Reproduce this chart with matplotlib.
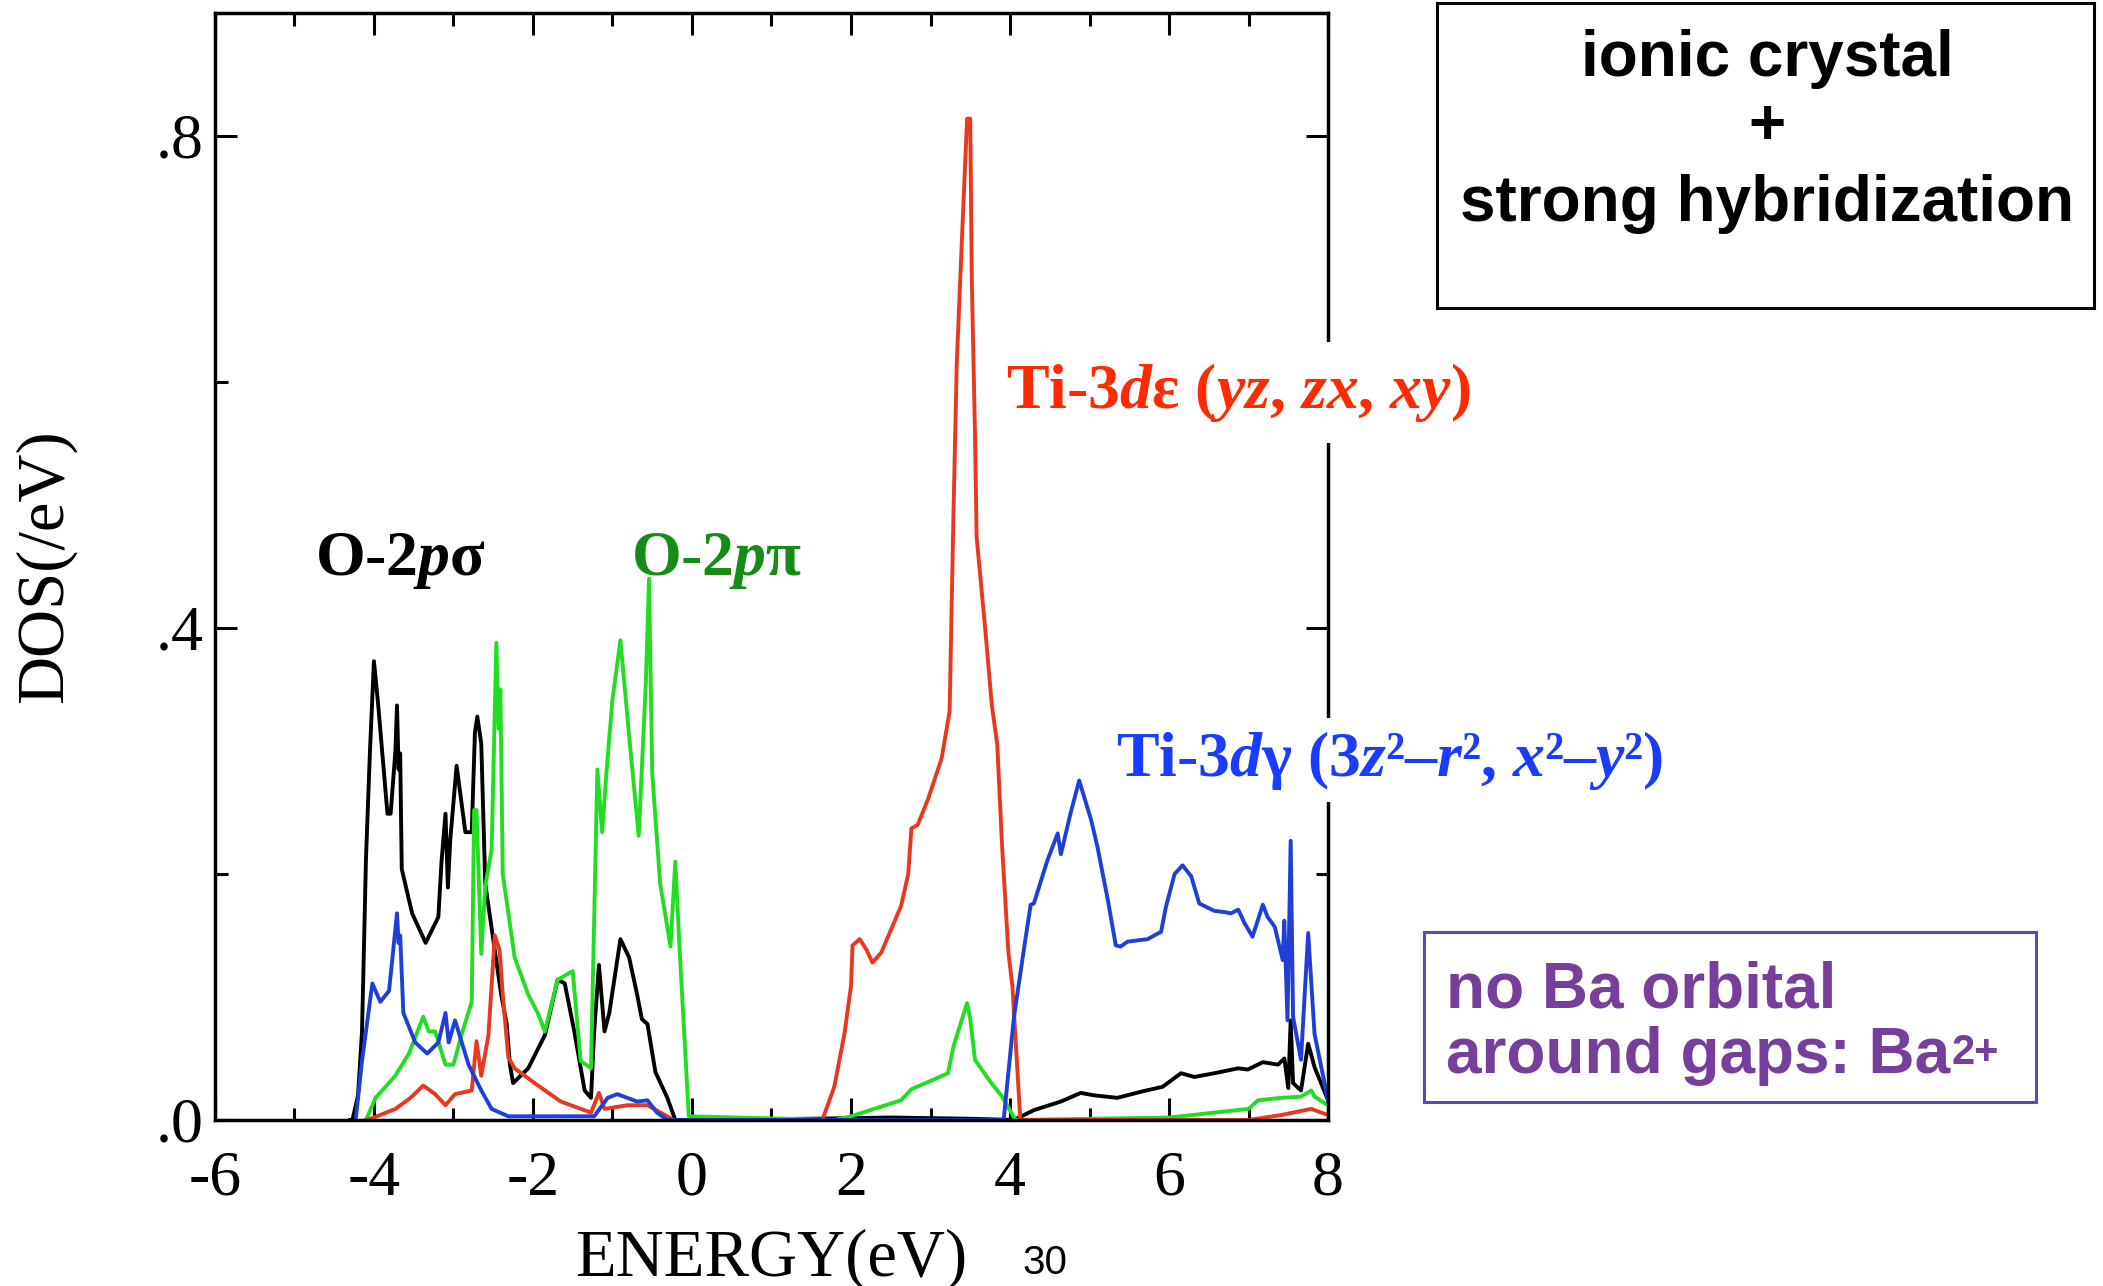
import matplotlib
matplotlib.use("Agg")
import matplotlib.pyplot as plt
from matplotlib.patches import Rectangle

# O-2p sigma (black)
e_sigma = [-4.3, -4.27, -4.2, -4.15, -4.1, -4.05, -4.0, -3.95, -3.83, -3.79, -3.73, -3.71, -3.69,
           -3.67, -3.65, -3.52, -3.35, -3.19, -3.15, -3.1, -3.07, -3.04, -2.96, -2.85, -2.77,
           -2.73, -2.7, -2.65, -2.6, -2.48, -2.4, -2.33, -2.29, -2.25, -2.06, -1.85, -1.69,
           -1.6, -1.48, -1.35, -1.27, -1.23, -1.17, -1.1, -1.04, -0.9, -0.79, -0.69, -0.63,
           -0.56, -0.46, -0.31, -0.21, 1.5, 2.5, 3.5, 4.05, 4.3, 4.64, 4.89, 5.06, 5.35, 5.65,
           5.92, 6.15, 6.32, 6.57, 6.87, 6.99, 7.18, 7.37, 7.45, 7.5, 7.53, 7.56, 7.66, 7.75,
           7.83, 8.0]
d_sigma = [0.0, 0.0, 0.02, 0.072, 0.213, 0.3, 0.373, 0.34, 0.249, 0.249, 0.3, 0.337, 0.285,
           0.298, 0.204, 0.168, 0.144, 0.165, 0.21, 0.249, 0.189, 0.228, 0.288, 0.234, 0.234,
           0.315, 0.328, 0.306, 0.192, 0.138, 0.102, 0.078, 0.045, 0.03, 0.042, 0.069, 0.114,
           0.111, 0.072, 0.024, 0.018, 0.072, 0.126, 0.072, 0.087, 0.147, 0.132, 0.102, 0.082,
           0.078, 0.039, 0.018, 0.0, 0.001, 0.002, 0.001, 0.0, 0.008, 0.015, 0.022, 0.02, 0.018,
           0.023, 0.027, 0.038, 0.035, 0.038, 0.042, 0.041, 0.047, 0.045, 0.05, 0.026, 0.081,
           0.03, 0.024, 0.062, 0.043, 0.016]

# O-2p pi (green)
e_pi = [-4.1, -3.98, -3.73, -3.56, -3.38, -3.31, -3.23, -3.1, -3.0, -2.9, -2.77, -2.74, -2.71,
        -2.65, -2.6, -2.52, -2.46, -2.43, -2.41, -2.38, -2.23, -2.06, -1.94, -1.85, -1.69, -1.5,
        -1.4, -1.27, -1.19, -1.13, -1.08, -1.0, -0.9, -0.79, -0.67, -0.58, -0.54, -0.5, -0.4,
        -0.27, -0.21, -0.15, -0.04, 1.79, 2.0, 2.63, 2.76, 3.22, 3.29, 3.46, 3.5, 3.56, 3.73,
        3.9, 4.07, 6.0, 7.0, 7.12, 7.41, 7.66, 7.79, 7.83, 8.0]
d_pi = [0.0, 0.018, 0.036, 0.054, 0.084, 0.072, 0.072, 0.045, 0.045, 0.069, 0.096, 0.252, 0.252,
        0.135, 0.19, 0.22, 0.388, 0.318, 0.35, 0.2, 0.132, 0.102, 0.087, 0.072, 0.114, 0.121,
        0.048, 0.042, 0.285, 0.234, 0.279, 0.342, 0.39, 0.312, 0.231, 0.356, 0.44, 0.282, 0.192,
        0.141, 0.21, 0.132, 0.003, 0.0, 0.003, 0.016, 0.025, 0.038, 0.06, 0.095, 0.082, 0.049,
        0.033, 0.019, 0.0, 0.002, 0.009, 0.016, 0.018, 0.019, 0.024, 0.019, 0.012]

# Ti-3d epsilon (red)
e_eps = [-4.1, -4.02, -3.73, -3.54, -3.38, -3.23, -3.1, -2.98, -2.77, -2.71, -2.65, -2.56, -2.48,
         -2.42, -2.38, -2.31, -2.23, -1.98, -1.65, -1.27, -1.17, -1.1, -0.81, -0.56, -0.23, 1.64,
         1.79, 1.92, 2.0, 2.02, 2.11, 2.19, 2.27, 2.38, 2.63, 2.72, 2.76, 2.84, 2.97, 3.14, 3.24,
         3.29, 3.33, 3.39, 3.46, 3.5, 3.52, 3.56, 3.58, 3.69, 3.77, 3.84, 3.9, 3.98, 4.03, 4.13,
         7.0, 7.41, 7.79, 8.0]
d_eps = [0.0, 0.0015, 0.009, 0.018, 0.028, 0.021, 0.012, 0.021, 0.024, 0.064, 0.036, 0.069, 0.15,
         0.138, 0.102, 0.051, 0.042, 0.03, 0.015, 0.006, 0.022, 0.009, 0.012, 0.012, 0.0, 0.0,
         0.027, 0.071, 0.109, 0.142, 0.147, 0.139, 0.128, 0.136, 0.174, 0.2, 0.237, 0.24, 0.261,
         0.294, 0.332, 0.496, 0.615, 0.708, 0.814, 0.814, 0.681, 0.556, 0.474, 0.398, 0.338,
         0.305, 0.223, 0.136, 0.109, 0.0, 0.0, 0.004, 0.009, 0.004]

# Ti-3d gamma (blue)
e_gam = [-4.23, -4.15, -4.02, -3.92, -3.81, -3.71, -3.69, -3.67, -3.63, -3.48, -3.33, -3.19, -3.1,
         -3.06, -2.98, -2.81, -2.65, -2.52, -2.31, -1.23, -1.06, -0.94, -0.69, -0.56, -0.44, -0.31,
         3.92, 4.05, 4.18, 4.26, 4.3, 4.47, 4.6, 4.64, 4.76, 4.87, 5.02, 5.1, 5.23, 5.33, 5.39,
         5.48, 5.73, 5.9, 5.96, 6.07, 6.17, 6.28, 6.38, 6.57, 6.7, 6.78, 6.87, 6.95, 7.05, 7.18,
         7.24, 7.33, 7.43, 7.45, 7.49, 7.53, 7.56, 7.66, 7.75, 7.83, 8.0]
d_gam = [0.0, 0.048, 0.111, 0.096, 0.105, 0.168, 0.144, 0.15, 0.087, 0.063, 0.054, 0.063, 0.087,
         0.063, 0.081, 0.045, 0.024, 0.009, 0.003, 0.003, 0.018, 0.021, 0.015, 0.016, 0.006, 0.0,
         0.0, 0.084, 0.141, 0.175, 0.176, 0.211, 0.233, 0.216, 0.249, 0.276, 0.244, 0.222, 0.179,
         0.142, 0.141, 0.145, 0.147, 0.153, 0.173, 0.2, 0.207, 0.198, 0.176, 0.17, 0.169, 0.168,
         0.171, 0.16, 0.149, 0.175, 0.165, 0.157, 0.13, 0.162, 0.081, 0.227, 0.084, 0.049, 0.152,
         0.07, 0.016]

x_ticks = [-6, -4, -2, 0, 2, 4, 6, 8]
x_labels = ["-6", "-4", "-2", "0", "2", "4", "6", "8"]
y_ticks = [0.0, 0.4, 0.8]
y_labels = [".0", ".4", ".8"]

plt.rcParams["mathtext.fontset"] = "custom"
plt.rcParams["mathtext.rm"] = "Liberation Serif:bold"
plt.rcParams["mathtext.it"] = "Liberation Serif:italic:bold"

fig = plt.figure(figsize=(21.03, 12.86), dpi=100)
ax = fig.add_axes([0.1022, 0.1291, 0.5293, 0.8608])

lw = 2.8
ax.plot(e_sigma, d_sigma, color="black", lw=lw)
ax.plot(e_pi, d_pi, color="#22dd22", lw=lw)
ax.plot(e_eps, d_eps, color="#e8381e", lw=lw)
ax.plot(e_gam, d_gam, color="#1f3fd6", lw=lw)

ax.set_xlim(-6, 8)
ax.set_ylim(0, 0.9)
ax.set_xticks(x_ticks)
ax.set_xticklabels(x_labels)
ax.set_xticks(range(-5, 8, 2), minor=True)
ax.set_yticks(y_ticks)
ax.set_yticklabels(y_labels)
ax.set_yticks([0.2, 0.6], minor=True)
ax.tick_params(which="both", direction="in", top=True, right=True, width=2.2)
ax.tick_params(which="major", length=16)
ax.tick_params(which="minor", length=9)
ax.tick_params(axis="x", which="major", pad=22)
ax.tick_params(axis="y", which="major", pad=8)
for lab in ax.get_xticklabels() + ax.get_yticklabels():
    lab.set_family("Liberation Serif")
    lab.set_fontsize(46)
for sp in ax.spines.values():
    sp.set_linewidth(2.5)

ax.set_xlabel("ENERGY(eV)", family="Liberation Serif", fontsize=48, va="top")
ax.xaxis.set_label_coords(0.5, -0.098)
ax.set_ylabel("DOS(/eV)", family="Liberation Serif", fontsize=48)
ax.yaxis.set_label_coords(-0.125, 0.5)

serif = dict(family="Liberation Serif", fontweight="bold", fontsize=46, va="baseline")
ax.text(-4.74, 0.443, r"O-2$\mathit{p}$σ", color="black", **serif)
ax.text(-0.77, 0.443, r"O-2$\mathit{p}$π", color="#158c15", **serif)
ax.text(3.95, 0.579, r"Ti-3$\mathit{d}$ε ($\mathit{yz}$, $\mathit{zx}$, $\mathit{xy}$)",
        color="#ff2a00", bbox=dict(fc="white", ec="none", pad=14), **serif)
ax.text(5.33, 0.28, r"Ti-3$\mathit{d}$γ (3$\mathit{z}$²–$\mathit{r}$², $\mathit{x}$²–$\mathit{y}$²)",
        color="#1a3cff", bbox=dict(fc="white", ec="none", pad=8), **serif)

# boxes on the right
W, H = 2103.0, 1286.0
fig.patches.append(Rectangle((1437 / W, 1 - 308 / H), 657 / W, 305 / H, transform=fig.transFigure,
                             fill=False, ec="black", lw=2.2))
sans = dict(family="Liberation Sans", fontweight="bold", fontsize=46)
fig.text(1767 / W, 1 - 76 / H, "ionic crystal", ha="center", va="baseline", **sans)
fig.text(1767 / W, 1 - 127 / H, "+", ha="center", va="center", **sans)
fig.text(1767 / W, 1 - 221 / H, "strong hybridization", ha="center", va="baseline", **sans)

fig.patches.append(Rectangle((1424 / W, 1 - 1102 / H), 612 / W, 170 / H, transform=fig.transFigure,
                             fill=False, ec="#5050b4", lw=2.2))
purple = "#773f9c"
fig.text(1446 / W, 1 - 1008 / H, "no Ba orbital", ha="left", va="baseline", color=purple, **sans)
t_ba = fig.text(1446 / W, 1 - 1073 / H, "around gaps: Ba", ha="left", va="baseline",
                color=purple, **sans)
fig.add_artist(plt.Annotation("2+", xy=(1, 1), xycoords=t_ba, xytext=(1, -5),
                              textcoords="offset points", ha="left", va="top", color=purple,
                              family="Liberation Sans", fontweight="bold", fontsize=30))

fig.text(1022 / W, 0.003, "30", ha="left", va="bottom", family="Liberation Sans", fontsize=29)

fig.savefig("out.png", dpi=100)
